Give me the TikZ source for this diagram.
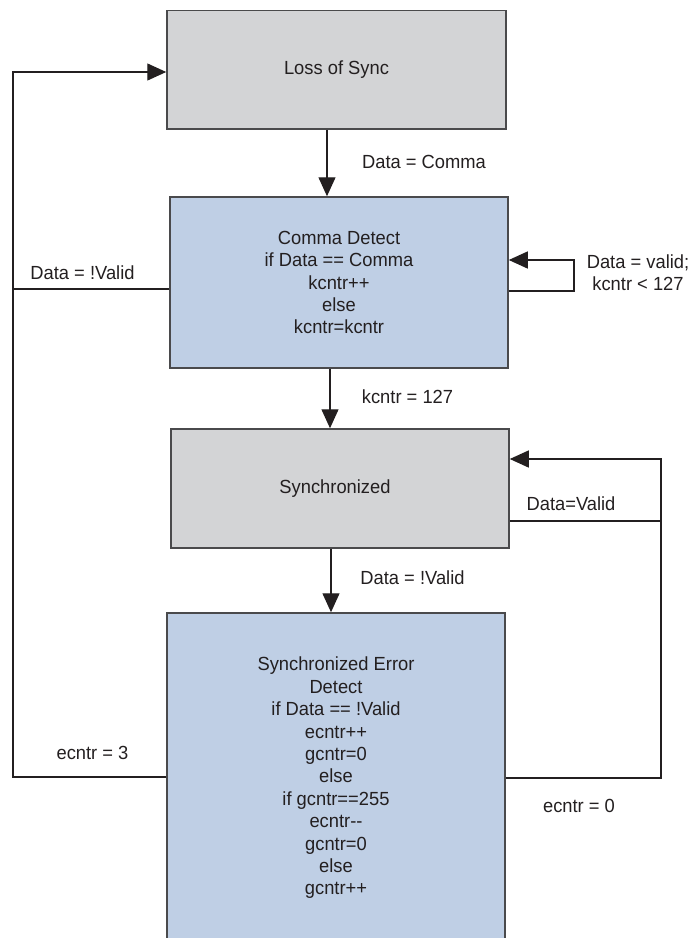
\documentclass[tikz,border=0pt]{standalone}
\usepackage{fontspec}
\setmainfont{Liberation Sans}[FakeStretch=0.965]
\usetikzlibrary{arrows.meta,calc}
\definecolor{boxgray}{HTML}{D3D4D6}
\definecolor{boxblue}{HTML}{BFCFE5}
\definecolor{edge}{HTML}{4A4A4C}
\definecolor{txt}{HTML}{231F20}
\begin{document}
\begin{tikzpicture}[x=1pt,y=-1pt,
  statebox/.style={draw=edge, line width=1.5pt, rectangle, align=center, inner sep=0pt,
    text=txt, font=\fontsize{19}{22.4}\selectfont},
  graybox/.style={statebox, fill=boxgray},
  bluebox/.style={statebox, fill=boxblue},
  lbl/.style={text=txt, font=\fontsize{19}{22}\selectfont, align=center, inner sep=0pt},
  conn/.style={draw=txt, line width=1.3pt},
  arr/.style={conn, -{Triangle[length=19pt,width=17pt]}}]
\useasboundingbox (0,0) rectangle (691,938);

% states
\node[graybox, minimum width=339pt, minimum height=118.5pt] (los) at (336.5,69.5) {Loss of Sync};
\node[bluebox, minimum width=338pt, minimum height=171pt] (cd) at (339,282.5)
  {Comma Detect\\if Data == Comma\\kcntr++\\else\\kcntr=kcntr};
\node[graybox, minimum width=338pt, minimum height=119pt] (syn) at (340,488.5) {Synchronized\hspace*{10pt}};
\node[bluebox, minimum width=338pt, minimum height=330pt] (sed) at (336,778)
  {Synchronized Error\\Detect\\if Data == !Valid\\ecntr++\\gcntr=0\\else\\if gcntr==255\\ecntr-{}-\\gcntr=0\\else\\gcntr++};

% helper coordinates
\coordinate (a1) at (327,0);
\coordinate (a2) at (330,0);
\coordinate (a3) at (331,0);
\coordinate (lt) at (13,72);
\coordinate (ll) at (13,289);
\coordinate (lb) at (13,777);
\coordinate (r1) at (574,260);
\coordinate (r2) at (574,291);
\coordinate (s1) at (661,459);
\coordinate (s2) at (661,521);
\coordinate (s3) at (661,778);

% vertical transitions
\draw[arr] (los.south -| a1) -- (cd.north -| a1);
\draw[arr] (cd.south -| a2) -- (syn.north -| a2);
\draw[arr] (syn.south -| a3) -- (sed.north -| a3);

% left return to Loss of Sync
\draw[arr] (lb -| sed.west) -- (lb) -- (lt) -- (lt -| los.west);
\draw[conn] (ll -| cd.west) -- (ll);

% comma detect self loop
\draw[arr] (r2 -| cd.east) -- (r2) -- (r1) -- (r1 -| cd.east);

% right return to Synchronized
\draw[conn] (s2 -| syn.east) -- (s2);
\draw[arr] (s3 -| sed.east) -- (s3) -- (s1) -- (s1 -| syn.east);

% labels
\node[lbl] (t1) at (424,162) {Data = Comma};
\node[lbl] (t2) at (82.5,273) {Data = !Valid};
\node[lbl] (t3) at (638,273) {Data = valid;\\kcntr < 127};
\node[lbl] (t4) at (407.5,397) {kcntr = 127};
\node[lbl] (t5) at (571,504) {Data=Valid};
\node[lbl] (t6) at (412.5,578) {Data = !Valid};
\node[lbl] (t7) at (92.5,753) {ecntr = 3};
\node[lbl] (t8) at (579,806) {ecntr = 0};
\end{tikzpicture}
\end{document}
